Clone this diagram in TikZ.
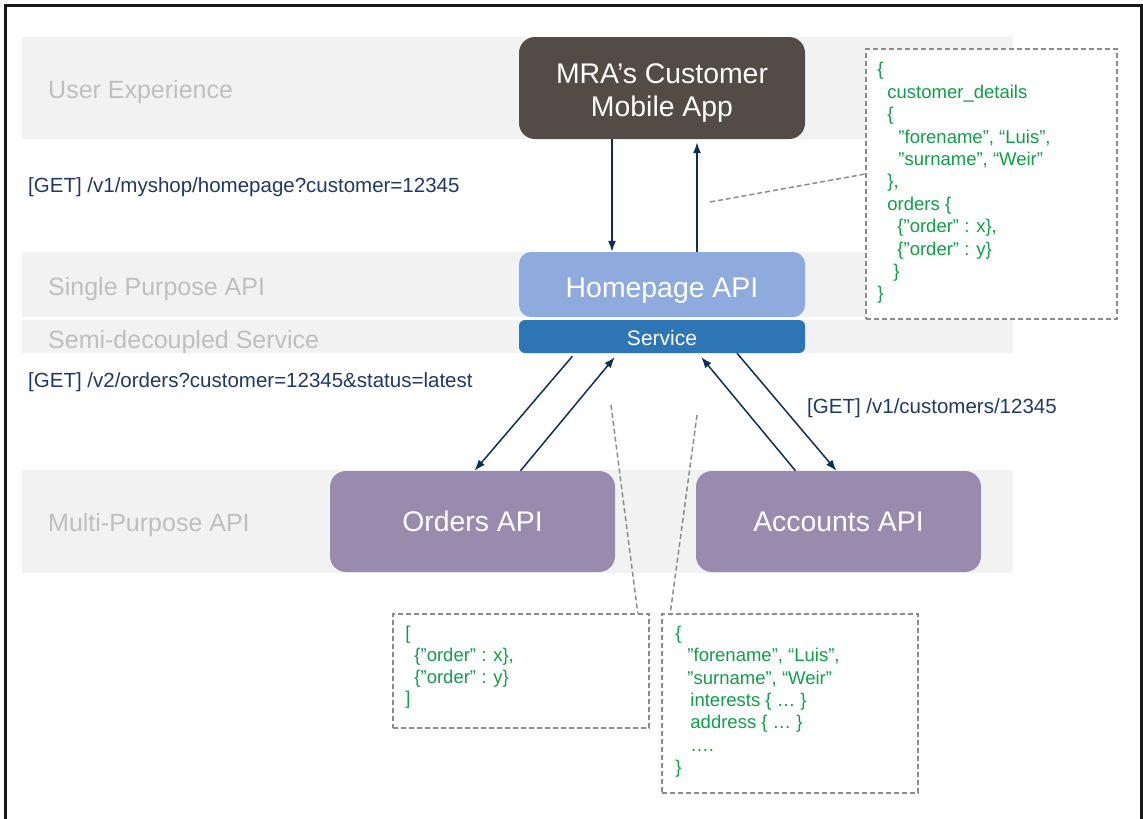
\documentclass[tikz,border=0pt]{standalone}
\usepackage{fontspec}
\setmainfont{Liberation Sans}
\usetikzlibrary{positioning}
\usetikzlibrary{calc}
\usetikzlibrary{arrows.meta}
\definecolor{Navy}{RGB}{31,56,100}
\definecolor{ArrowNavy}{RGB}{14,46,84}
\definecolor{Band}{RGB}{242,242,242}
\definecolor{LaneText}{RGB}{191,191,191}
\definecolor{AppBrown}{RGB}{83,75,69}
\definecolor{HomeBlue}{RGB}{143,170,220}
\definecolor{ServBlue}{RGB}{46,117,182}
\definecolor{ApiPurple}{RGB}{153,139,174}
\definecolor{JsonGreen}{RGB}{16,158,72}
\definecolor{Leader}{RGB}{140,140,140}

\begin{document}
\begin{tikzpicture}[>={Latex[length=11pt,width=8pt]}, x=1pt, y=-1pt,
  lane/.style={text=LaneText, anchor=west, inner sep=0pt, font=\fontsize{25}{30}\selectfont},
  call/.style={text=Navy, anchor=west, inner sep=0pt, font=\fontsize{20.5}{24}\selectfont},
  api/.style={rounded corners=16pt, text=white, inner sep=0pt, align=center,
    minimum width=286pt, font=\fontsize{28.4}{33}\selectfont},
  flow/.style={ArrowNavy, line width=1.5pt},
  jsonbox/.style={draw=Leader, fill=white, line width=1.5pt, dash pattern=on 5pt off 3pt, inner sep=0pt},
  json/.style={text=JsonGreen, anchor=north west, inner sep=0pt, align=left},
  leader/.style={Leader, line width=1.5pt, dash pattern=on 5pt off 3pt}]
\useasboundingbox (0,0) rectangle (1143,819);
\clip (0,0) rectangle (1143,819);

% lanes
\fill[Band] (22,37) rectangle (1013,139);
\fill[Band] (22,252) rectangle (1013,317);
\fill[Band] (22,320) rectangle (1013,353);
\fill[Band] (22,470) rectangle (1013,573);
\node[lane] (ux) at (48,92) {User Experience};
\node[lane] (spa) at (48,289) {Single Purpose API};
\node[lane] (sds) at (48,342) {Semi-decoupled Service};
\node[lane] (mpa) at (48,525) {Multi-Purpose API};

% services
\node[api, fill=AppBrown, minimum height=102pt, text height=56.6pt, text depth=0pt] (app) at (662,88) {MRA’s Customer\\Mobile App};
\node[api, fill=HomeBlue, minimum height=65pt, rounded corners=12pt, text height=25pt, text depth=0pt] (home) at (662,284.5) {Homepage API};
\node[api, fill=ServBlue, minimum height=33pt, rounded corners=6pt, text height=18pt, text depth=0pt,
  font=\fontsize{21}{25}\selectfont] (serv) at (662,336.5) {Service};
\node[api, fill=ApiPurple, minimum width=285pt, minimum height=101pt] (orders) at (472.5,521.5) {Orders API};
\node[api, fill=ApiPurple, minimum width=285pt, minimum height=101pt] (accounts) at (838.5,521.5) {Accounts API};

% calls
\node[call] (getHome) at (28,187) {[GET] /v1/myshop/homepage?customer=12345};
\node[call] (getOrders) at (28,382) {[GET] /v2/orders?customer=12345\&status=latest};
\node[call] (getCust) at (807,408) {[GET] /v1/customers/12345};

\draw[flow,->] ($(app.south)+(-50,0)$) -- ($(home.north)+(-50,0)$);
\draw[flow,->,shorten >=3pt] ($(home.north)+(35,0)$) -- ($(app.south)+(35,0)$);
\draw[flow,->,shorten <=4pt] ($(serv.south)+(-87,0)$) -- ($(orders.north)+(2,0)$);
\draw[flow,->,shorten >=5pt] ($(orders.north)+(48,0)$) -- ($(serv.south)+(-44,0)$);
\draw[flow,->,shorten >=5pt] ($(accounts.north)+(-43,0)$) -- ($(serv.south)+(36,0)$);
\draw[flow,->] ($(serv.south)+(75,0)$) -- ($(accounts.north)+(-2,0)$);

% payloads
\node[jsonbox, minimum width=251pt, minimum height=270pt] (homejson) at (991.5,184) {};
\node[jsonbox, minimum width=256pt, minimum height=114pt] (ordjson) at (521,671) {};
\node[jsonbox, minimum width=256pt, minimum height=179pt] (accjson) at (790,703.5) {};

\node[json, font=\fontsize{18.5}{22.4}\selectfont] (homeText) at ($(homejson.north west)+(12,14)$)
  {\{\\
   \hspace*{10pt}customer\_details\\
   \hspace*{10pt}\{\\
   \hspace*{21pt}”forename”, “Luis”,\\
   \hspace*{21pt}”surname”, “Weir”\\
   \hspace*{10pt}\},\\
   \hspace*{10pt}orders \{\\
   \hspace*{20pt}\{”order” : x\},\\
   \hspace*{20pt}\{”order” : y\}\\
   \hspace*{16pt}\}\\
   \}};
\node[json, font=\fontsize{18.5}{21.7}\selectfont] (ordText) at ($(ordjson.north west)+(13,13)$)
  {[\\
   \hspace*{9pt}\{”order” : x\},\\
   \hspace*{9pt}\{”order” : y\}\\
   ]};
\node[json, font=\fontsize{18.5}{22.4}\selectfont] (accText) at ($(accjson.north west)+(14,12.5)$)
  {\{\\
   \hspace*{12pt}”forename”, “Luis”,\\
   \hspace*{12pt}”surname”, “Weir”\\
   \hspace*{15pt}interests \{ … \}\\
   \hspace*{15pt}address \{ … \}\\
   \hspace*{15pt}….\\
   \}};

\coordinate (homeTip) at (710,202);
\coordinate (ordTip) at (611,405);
\coordinate (accTip) at (697,415);
\draw[leader] (homeTip) -- ($(homejson.west)+(0,-10)$);
\draw[leader] (ordTip) -- ($(ordjson.north east)+(-12,0)$);
\draw[leader] (accTip) -- ($(accjson.north west)+(9,0)$);

% frame
\draw[line width=3pt, black!90] (5,830) -- (5,5) -- (1141,5) -- (1141,830);
\end{tikzpicture}
\end{document}
